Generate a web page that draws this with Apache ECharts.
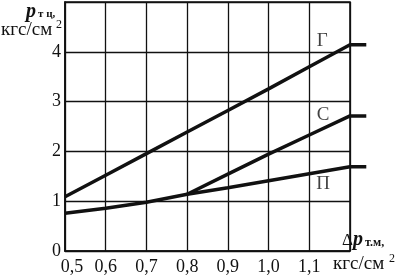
<!DOCTYPE html>
<html>
<head>
<meta charset="utf-8">
<script src="https://cdn.jsdelivr.net/npm/echarts@6/dist/echarts.min.js"></script>
<style>html,body{margin:0;padding:0;background:#fff}#c{width:400px;height:276px}</style>
</head>
<body>
<div id="c"></div>
<script>
// Data
var xValues = [0.5, 0.6, 0.7, 0.8, 0.9, 1.0, 1.1, 1.2, 1.24];
var seriesG = [1.12, 1.55, 1.98, 2.41, 2.84, 3.27, 3.71, 4.15, 4.15];
var seriesS = [null, null, null, 1.17, 1.57, 1.97, 2.35, 2.73, 2.73];
var seriesP = [0.79, 0.89, 1.01, 1.17, 1.30, 1.44, 1.58, 1.72, 1.72];
var curveNames = ['Г', 'С', 'П'];
var nameX = [1.132, 1.134, 1.134];
var nameY = [4.21, 2.74, 1.35];
var xTickLabels = ['0,5', '0,6', '0,7', '0,8', '0,9', '1,0', '1,1'];
var yTickLabels = ['0', '1', '2', '3', '4'];

var FONT = '"Liberation Serif", "Times New Roman", serif';
var INK = '#111';

function pairs(xs, ys) {
  var out = [];
  for (var i = 0; i < xs.length; i++) if (ys[i] != null) out.push([xs[i], ys[i]]);
  return out;
}
function lineSeries(ys) {
  return {
    type: 'line', data: pairs(xValues, ys), clip: false, symbol: 'none', silent: true,
    xAxisIndex: 1, yAxisIndex: 1,
    lineStyle: { color: INK, width: 3.5 }, z: 5
  };
}

// same scale as the framed grid (407.14 px per unit), extended to 1.24
var pxPerUnit = 285 / 0.7;
var rightExt = 400 - (65 + 0.74 * pxPerUnit);

var chart = echarts.init(document.getElementById('c'), null, { renderer: 'canvas' });
chart.setOption({
  animation: false,
  backgroundColor: '#fff',
  grid: [
    { left: 65, right: 50, top: 2, bottom: 23, show: true, borderColor: INK, borderWidth: 1.6, backgroundColor: 'transparent' },
    { left: 65, right: rightExt, top: 2, bottom: 23, show: false }
  ],
  xAxis: [{
    type: 'value', min: 0.5, max: 1.2, interval: 0.1, gridIndex: 0,
    axisLine: { show: true, lineStyle: { color: INK, width: 1.6 } },
    axisTick: { show: false },
    splitLine: { show: true, lineStyle: { color: INK, width: 1.3 } },
    axisLabel: {
      margin: 7, color: INK, fontFamily: FONT, fontSize: 18,
      formatter: function (v) {
        var idx = Math.round((v - 0.5) * 10);
        if (idx === 0) return '{first|' + xTickLabels[0] + '}';
        return idx > 0 && idx < xTickLabels.length ? xTickLabels[idx] : '';
      },
      rich: { first: { fontFamily: FONT, fontSize: 18, color: INK, padding: [0, 0, 0, 14] } }
    }
  }, {
    type: 'value', min: 0.5, max: 1.24, gridIndex: 1, show: false
  }],
  yAxis: [{
    type: 'value', min: 0, max: 5, interval: 1, gridIndex: 0,
    axisLine: { show: true, lineStyle: { color: INK, width: 1.6 } },
    axisTick: { show: false },
    splitLine: { show: true, lineStyle: { color: INK, width: 1.3 } },
    axisLabel: {
      margin: 4, color: INK, fontFamily: FONT, fontSize: 18,
      formatter: function (v) {
        var idx = Math.round(v);
        return idx < yTickLabels.length ? yTickLabels[idx] : '';
      }
    }
  }, {
    type: 'value', min: 0, max: 5, gridIndex: 1, show: false
  }],
  series: [
    lineSeries(seriesG),
    lineSeries(seriesS),
    lineSeries(seriesP),
    {
      type: 'scatter', symbolSize: 0, silent: true, z: 6,
      xAxisIndex: 0, yAxisIndex: 0,
      data: curveNames.map(function (n, i) { return { value: [nameX[i], nameY[i]], name: n }; }),
      label: {
        show: true, position: 'inside', formatter: '{b}',
        color: INK, fontFamily: FONT, fontSize: 19
      }
    }
  ],
  graphic: [
    { type: 'text', left: 26, top: 2, style: { text: 'p', font: 'italic bold 20px ' + FONT, fill: INK } },
    { type: 'text', left: 38, top: 9, style: { text: 'т ц,', font: 'bold 11px ' + FONT, fill: INK } },
    { type: 'text', left: 1, top: 21, style: { text: 'кгс/см', font: '19px ' + FONT, fill: INK } },
    { type: 'text', left: 56, top: 19, style: { text: '2', font: '12px ' + FONT, fill: INK } },
    { type: 'text', left: 342, top: 232, style: { text: 'Δ', font: '17px ' + FONT, fill: INK } },
    { type: 'text', left: 353, top: 230, style: { text: 'p', font: 'italic bold 20px ' + FONT, fill: INK } },
    { type: 'text', left: 365, top: 237, style: { text: 'т.м,', font: 'bold 12px ' + FONT, fill: INK } },
    { type: 'text', left: 333, top: 255, style: { text: 'кгс/см', font: '19px ' + FONT, fill: INK } },
    { type: 'text', left: 389, top: 253, style: { text: '2', font: '12px ' + FONT, fill: INK } }
  ]
});
</script>
</body>
</html>
